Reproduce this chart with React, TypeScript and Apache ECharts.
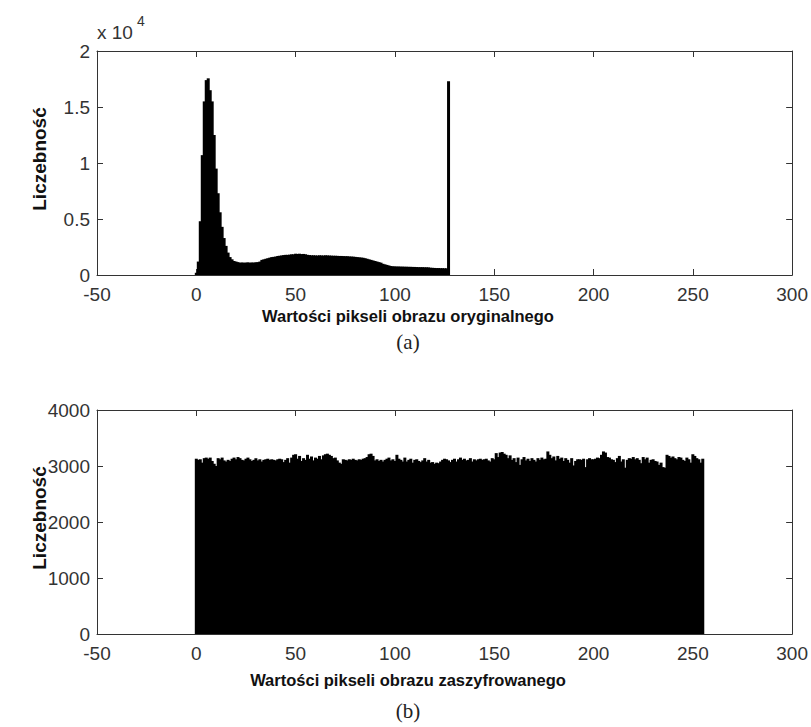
import { useEffect, useRef } from "react";
import * as echarts from "echarts";

// Histogram (a): pixel values 0..127 of the original image (counts)
const originalCounts: number[] = [
  200, 1200, 4800, 10700, 15500, 17400, 17560, 16500, 15500, 12500, 9500, 7300, 5600, 4300, 3300, 2600,
  2000, 1600, 1400, 1250, 1200, 1150,
  1100, 1120, 1100, 1110, 1130, 1100, 1120, 1110, 1130, 1150, 1200,
  1350, 1400, 1450, 1500,
  1550, 1600, 1620, 1650, 1700, 1720,
  1750, 1780, 1800, 1800, 1820, 1850, 1850,
  1900, 1880, 1900, 1870, 1880, 1850,
  1800, 1780, 1760, 1760, 1750, 1740, 1760, 1750, 1740, 1760, 1750, 1740, 1730, 1720,
  1720, 1710, 1700, 1700, 1690, 1680, 1680, 1660, 1650, 1640,
  1620, 1600, 1580, 1560, 1540, 1500,
  1450, 1400, 1350, 1300, 1250, 1200, 1150,
  1100, 1000, 950, 900, 850,
  800, 780, 770, 760, 760, 750, 750, 740, 740, 730, 730, 720,
  720, 710, 700, 700, 700, 690, 690, 680,
  650, 640, 630, 620, 620, 610, 610, 600, 600,
  17300,
];

// Histogram (b): pixel values 0..255 of the encrypted image (counts)
const encryptedCounts: number[] = [
  3130, 3110, 3120, 3060, 3140, 3150, 3130, 3150, 3090, 3040, 3000, 3140, 3120, 3150, 3100, 3080,
  3110, 3090, 3130, 3150, 3120, 3160, 3140, 3110, 3100, 3130, 3150, 3120, 3090, 3110, 3140, 3100,
  3120, 3080, 3110, 3120, 3130, 3110, 3120, 3110, 3100, 3120, 3130, 3120, 3070, 3110, 3140, 3060,
  3150, 3200, 3210, 3130, 3180, 3090, 3140, 3110, 3200, 3130, 3170, 3100, 3150, 3130, 3180, 3120,
  3190, 3210, 3220, 3200, 3180, 3140, 3150, 3100, 3060, 3040, 3120, 3110, 3100, 3120, 3110, 3130,
  3110, 3100, 3120, 3110, 3130, 3140, 3160, 3210, 3220, 3180, 3100, 3120, 3090, 3110, 3080, 3110,
  3130, 3150, 3100, 3120, 3090, 3200, 3130, 3110, 3080, 3150, 3080, 3110, 3130, 3060, 3110, 3120,
  3090, 3070, 3100, 3140, 3080, 3110, 3060, 3070, 3040, 3060, 3050, 3080, 3110, 3130, 3120, 3100,
  3070, 3110, 3130, 3080, 3120, 3150, 3110, 3130, 3100, 3110, 3140, 3080, 3120, 3100, 3120, 3130,
  3110, 3120, 3130, 3100, 3080, 3140, 3120, 3230, 3160, 3240, 3250, 3220, 3200, 3140, 3190, 3110,
  3140, 3070, 3150, 3020, 3120, 3160, 3100, 3130, 3090, 3140, 3110, 3080, 3140, 3110, 3150, 3120,
  3130, 3260, 3200, 3140, 3170, 3100, 3180, 3130, 3150, 3090, 3140, 3110, 3060, 3140, 3010, 3090,
  3120, 3120, 3110, 3130, 2980, 3120, 3140, 3120, 3120, 3130, 3150, 3140, 3200, 3260, 3240, 3160,
  3150, 3120, 3110, 3070, 3140, 3180, 3080, 3120, 2970, 3110, 3140, 3130, 3160, 3120, 3140, 3110,
  3050, 3160, 3120, 3150, 3060, 3110, 3120, 3090, 3080, 3020, 3060, 2980, 2970, 3200, 3180, 3150,
  3170, 3140, 3120, 3160, 3150, 3110, 3090, 3150, 3120, 3060, 3210, 3180, 3140, 3120, 3060, 3130,
];

const xMin = -50;
const xMax = 300;
const xStep = 50;
const yMaxA = 20000;
const yStepA = 5000;
const yMaxB = 4000;
const yStepB = 1000;

const xTitleA = "Wartości pikseli obrazu oryginalnego";
const xTitleB = "Wartości pikseli obrazu zaszyfrowanego";
const yTitle = "Liczebność";
const captionA = "(a)";
const captionB = "(b)";

const FONT = "'Liberation Sans', Arial, sans-serif";
const AXIS_COLOR = "#333";

function xAxes(gridIndex: number) {
  const base = {
    gridIndex,
    type: "value" as const,
    min: xMin,
    max: xMax,
    interval: xStep,
    splitLine: { show: false },
    axisLine: { show: true, onZero: false, lineStyle: { color: AXIS_COLOR, width: 1 } },
    axisTick: { show: true, inside: true, length: 6, lineStyle: { color: AXIS_COLOR } },
  };
  return [
    {
      ...base,
      position: "bottom",
      axisLabel: {
        show: true,
        margin: 10,
        color: "#333",
        fontFamily: FONT,
        fontSize: 19,
        lineHeight: 18,
        showMinLabel: true,
        showMaxLabel: true,
      },
    },
    { ...base, position: "top", axisLabel: { show: false } },
  ];
}

function yAxes(gridIndex: number, max: number, step: number, fmt: (v: number) => string) {
  const base = {
    gridIndex,
    type: "value" as const,
    min: 0,
    max,
    interval: step,
    splitLine: { show: false },
    axisLine: { show: true, onZero: false, lineStyle: { color: AXIS_COLOR, width: 1 } },
    axisTick: { show: true, inside: true, length: 6, lineStyle: { color: AXIS_COLOR } },
  };
  return [
    {
      ...base,
      position: "left",
      axisLabel: {
        show: true,
        margin: 7,
        color: "#333",
        fontFamily: FONT,
        fontSize: 19,
        lineHeight: 18,
        formatter: fmt,
        showMinLabel: true,
        showMaxLabel: true,
      },
    },
    { ...base, position: "right", axisLabel: { show: false } },
  ];
}

export default function App() {
  const ref = useRef<HTMLDivElement>(null);

  useEffect(() => {
    if (!ref.current) return;
    const chart = echarts.init(ref.current, null, { renderer: "svg" });

    const titleStyle = {
      fill: "#111",
      font: `bold 16.5px ${FONT}`,
      textAlign: "center",
      textVerticalAlign: "middle",
    };
    const yTitleStyle = {
      fill: "#111",
      font: `bold 19px ${FONT}`,
      textAlign: "center",
      textVerticalAlign: "middle",
    };
    const captionStyle = {
      fill: "#222",
      font: "21px 'Liberation Serif', 'DejaVu Serif', serif",
      textAlign: "center",
      textVerticalAlign: "middle",
    };

    chart.setOption({
      animation: false,
      backgroundColor: "#fff",
      grid: [
        { left: 97, top: 51, width: 696, height: 224, containLabel: false },
        { left: 97, top: 410, width: 696, height: 224, containLabel: false },
      ],
      xAxis: [...xAxes(0), ...xAxes(1)],
      yAxis: [
        ...yAxes(0, yMaxA, yStepA, (v: number) => String(v / 10000)),
        ...yAxes(1, yMaxB, yStepB, (v: number) => String(v)),
      ],
      series: [
        {
          type: "bar",
          xAxisIndex: 0,
          yAxisIndex: 0,
          data: originalCounts.map((v, i) => [i, v]),
          barWidth: 3,
          itemStyle: { color: "#000", borderWidth: 0 },
          silent: true,
        },
        {
          type: "bar",
          xAxisIndex: 2,
          yAxisIndex: 2,
          data: encryptedCounts.map((v, i) => [i, v]),
          barWidth: 3,
          itemStyle: { color: "#000", borderWidth: 0 },
          silent: true,
        },
      ],
      graphic: [
        { type: "text", x: 97, y: 23, style: { text: "x 10", fill: "#333", font: `19px ${FONT}` } },
        { type: "text", x: 137, y: 14, style: { text: "4", fill: "#333", font: `14px ${FONT}` } },
        { type: "text", x: 408, y: 316, style: { ...titleStyle, text: xTitleA } },
        { type: "text", x: 408, y: 680, style: { ...titleStyle, text: xTitleB } },
        { type: "text", x: 39, y: 159, rotation: Math.PI / 2, style: { ...yTitleStyle, text: yTitle } },
        { type: "text", x: 39, y: 518, rotation: Math.PI / 2, style: { ...yTitleStyle, text: yTitle } },
        { type: "text", x: 408, y: 342, style: { ...captionStyle, text: captionA } },
        { type: "text", x: 408, y: 711, style: { ...captionStyle, text: captionB } },
      ],
    });

    return () => chart.dispose();
  }, []);

  return (
    <div
      ref={ref}
      style={{ position: "absolute", left: 0, top: 0, width: 811, height: 727 }}
    />
  );
}
